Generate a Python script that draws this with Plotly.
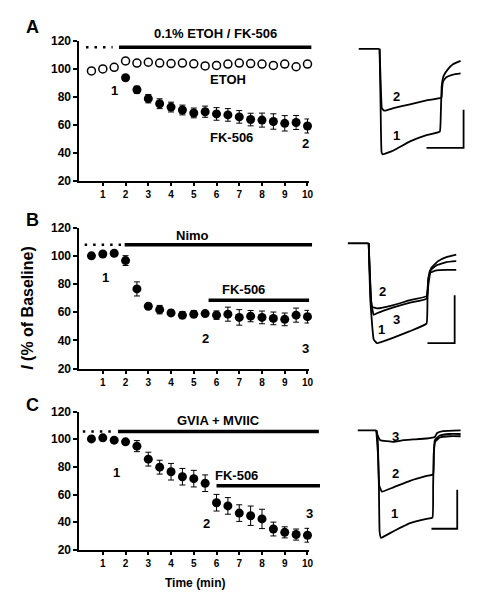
import plotly.graph_objects as go

W, H = 481, 600
FONT = "Liberation Sans, Arial, sans-serif"
PAGE_OFFSET = 8  # the browser's default body margin

# ---------------- data ----------------
time = [0.5, 1.0, 1.5, 2.0, 2.5, 3.0, 3.5, 4.0, 4.5, 5.0,
        5.5, 6.0, 6.5, 7.0, 7.5, 8.0, 8.5, 9.0, 9.5, 10.0]
x_ticks = [1, 2, 3, 4, 5, 6, 7, 8, 9, 10]
y_ticks = [20, 40, 60, 80, 100, 120]

# Panel A
a_etoh = [98.4, 99.8, 101.0, 105.5, 104.0, 104.6, 104.0, 103.7, 104.0, 103.5,
          102.0, 102.3, 103.3, 104.0, 103.7, 103.3, 102.3, 103.3, 101.4, 103.3]
a_etoh_err = [1.5, 1.0, 1.5, 2.0, 1.5, 1.5, 1.5, 2.0, 1.5, 1.5,
              1.5, 1.5, 2.0, 2.0, 2.0, 2.0, 2.0, 2.0, 1.5, 2.0]
a_fk_time = [2.0, 2.5, 3.0, 3.5, 4.0, 4.5, 5.0, 5.5, 6.0, 6.5,
             7.0, 7.5, 8.0, 8.5, 9.0, 9.5, 10.0]
a_fk = [93.5, 85.0, 78.6, 75.0, 72.6, 70.5, 68.4, 69.3, 67.7, 67.0,
        65.6, 63.7, 63.3, 62.3, 61.0, 61.6, 59.1]
a_fk_err = [1.5, 2.5, 3.0, 3.5, 3.5, 3.5, 3.5, 4.0, 4.5, 4.5,
            4.5, 4.5, 5.0, 5.5, 5.5, 5.0, 5.0]

# Panel B
b_mean = [100.0, 101.3, 101.8, 96.6, 76.5, 64.2, 61.8, 59.5, 57.9, 58.6,
          59.0, 57.9, 58.6, 56.3, 57.2, 56.3, 55.6, 54.9, 57.9, 56.8]
b_err = [1.0, 1.0, 1.0, 3.5, 5.0, 2.0, 3.0, 2.0, 2.5, 2.5,
         1.5, 3.0, 5.0, 5.5, 4.0, 4.5, 4.5, 4.5, 5.0, 4.5]

# Panel C
c_mean = [100.2, 101.0, 99.3, 98.1, 95.0, 85.6, 79.8, 76.5, 72.9, 71.5,
          68.2, 54.1, 51.8, 46.6, 44.7, 42.4, 35.1, 32.7, 31.1, 30.6]
c_err = [1.0, 1.0, 1.0, 1.5, 4.0, 5.0, 5.0, 6.0, 6.0, 6.0,
         6.0, 6.0, 6.0, 6.0, 7.0, 7.0, 5.0, 4.0, 4.0, 5.0]

# drug application bars
bar_panel = ["A", "A", "B", "B", "B", "C", "C", "C"]
bar_start = [0.26, 1.71, 0.20, 1.96, 5.65, 0.12, 1.67, 6.00]
bar_end = [1.43, 10.17, 1.80, 10.20, 10.07, 1.52, 10.50, 10.55]
bar_level = [115.3, 115.3, 107.8, 107.8, 68.5, 105.6, 105.6, 66.4]
bar_dotted = [True, False, True, False, False, True, False, False]

# text labels on the time-course plots
lab_panel = ["A", "A", "A", "A", "A", "B", "B", "B", "B", "B",
             "C", "C", "C", "C", "C"]
lab_text = ["0.1% ETOH / FK-506", "ETOH", "1", "FK-506", "2",
            "Nimo", "FK-506", "1", "2", "3",
            "GVIA + MVIIC", "FK-506", "1", "2", "3"]
lab_x = [5.94, 6.52, 1.52, 6.65, 9.93,
         4.93, 7.17, 1.13, 5.50, 9.93,
         6.09, 6.88, 1.60, 5.57, 10.07]
lab_y = [125.3, 92.6, 84.4, 50.7, 46.7,
         114.7, 76.1, 84.7, 41.5, 34.3,
         113.4, 73.9, 76.2, 38.8, 46.4]

# current traces (time, current; arbitrary units)
trA_base_t = [0, 21]
trA_base_i = [0, 0]
trA1_t = [21, 22, 23, 24.3, 35, 51.7, 68.3, 81.7, 82.7, 83.7, 85.7, 90, 95, 102.7]
trA1_i = [0, -57.3, -105.7, -108, -104, -94.7, -88.3, -84.7, -67.3, -37.3, -27.3, -20.7, -15.7, -12.3]
trA2_t = [21, 22.3, 23.3, 25.7, 35, 51.7, 68.3, 83.3, 84, 85, 88.3, 95, 102.7]
trA2_i = [0, -40.7, -60.7, -63.3, -60.7, -56.7, -52.7, -50, -40.7, -33.3, -29, -26.3, -25]

trB_base_t = [0, 21]
trB_base_i = [0, 0]
trB1_t = [21, 22.7, 26, 29.3, 46, 62.7, 79.3, 80.3, 81.3, 84.3, 91, 99.3, 109.3]
trB1_i = [0, -58.3, -98.3, -102.3, -96.7, -90, -82.3, -58.3, -35, -25, -18.3, -14.3, -11.7]
trB2_t = [21, 22.7, 24.3, 29.3, 46, 62.7, 79.3, 81, 82.7, 89.3, 99.3, 109.3]
trB2_i = [0, -41.7, -65, -66.7, -63.3, -58.3, -54.3, -38.3, -28.3, -22.7, -19.3, -18.3]
trB3_t = [21, 23.3, 26, 29.3, 46, 62.7, 79.3, 81.3, 83.3, 89.3, 99.3, 109.3]
trB3_i = [0, -58.3, -73.3, -71.7, -65.7, -60.7, -57, -41.7, -30, -27.7, -27.3, -27.3]

trC_base_t = [0, 18.7]
trC_base_i = [0, 0]
trC1_t = [18.7, 20, 21.3, 22, 23.3, 36, 52.7, 69.3, 75.3, 76, 76.7, 78, 82.7, 92.7, 103.7]
trC1_i = [0, -6.7, -56.7, -103.3, -110, -103.3, -95, -90.7, -89.3, -56.7, -23.3, -11.7, -7.3, -6, -6]
trC2_t = [18.7, 20.3, 21.7, 24.3, 36, 52.7, 69.3, 76, 76.7, 77.7, 82.7, 92.7, 103.7]
trC2_i = [0, -23.3, -56.7, -62.7, -58.3, -51.7, -46.7, -45, -23.3, -10, -5.3, -3.7, -3.7]
trC3_t = [18.7, 20, 22.7, 29.3, 36, 46, 56, 69.3, 77.7, 80, 86, 103.7]
trC3_i = [0, -5, -10, -11, -11.7, -10, -9.3, -8.3, -6.7, -2.7, -0.7, 0]

# scale bars: corner at (x1, y_bottom)
sb_x0 = [68.3, 80.3, 74.3]
sb_x1 = [105.7, 107.7, 100.3]
sb_ybot = [-101.3, -102.3, -100.7]
sb_ytop = [-62.3, -53.3, -60.7]

# trace labels
tl_panel = ["A", "A", "B", "B", "B", "C", "C", "C"]
tl_text = ["2", "1", "2", "3", "1", "3", "2", "1"]
tl_t = [38.3, 38.3, 35.3, 48.7, 34.3, 37.7, 37.7, 37.0]
tl_i = [-49, -89, -49, -78.3, -88.3, -6, -44, -85]

# ---------------- layout helpers ----------------
def px(x):
    return (x - PAGE_OFFSET) / W

def py(y):
    return 1 - (y - PAGE_OFFSET) / H

XR = [-0.03, 10.07]
YR = [20, 120]
main_dom = {"A": (34.3, 177.7), "B": (225.7, 370.0), "C": (414.0, 555.7)}
main_axes = {"A": ("x", "y"), "B": ("x2", "y2"), "C": ("x3", "y3")}

def fx(v):
    return (v - XR[0]) / (XR[1] - XR[0])

def fy(v):
    return (v - YR[0]) / (YR[1] - YR[0])

tr_axes = {"A": ("x4", "y4"), "B": ("x5", "y5"), "C": ("x6", "y6")}
tr_xdom = {"A": (355, 475), "B": (345, 475), "C": (355, 475)}
tr_ydom = {"A": (30, 170), "B": (225, 360), "C": (420, 555)}
tr_origin = {"A": (361.7, 42.7), "B": (350.7, 241.7), "C": (360.7, 433.3)}

fig = go.Figure()

def add_series(ax, x, y, err, filled):
    xa, ya = ax
    fig.add_trace(go.Scatter(
        x=x, y=y, mode="markers", xaxis=xa, yaxis=ya,
        error_y=dict(type="data", array=err, color="black", thickness=1, width=3),
        marker=dict(size=9 if filled else 8, color="black" if filled else "white",
                    symbol="circle",
                    line=dict(color="black", width=0 if filled else 1.5)),
        showlegend=False, cliponaxis=False))

add_series(main_axes["A"], time, a_etoh, a_etoh_err, False)
add_series(main_axes["A"], a_fk_time, a_fk, a_fk_err, True)
add_series(main_axes["B"], time, b_mean, b_err, True)
add_series(main_axes["C"], time, c_mean, c_err, True)

def add_line(ax, t, i, width=1.8):
    xa, ya = ax
    fig.add_trace(go.Scatter(x=t, y=i, mode="lines", xaxis=xa, yaxis=ya,
                             line=dict(color="black", width=width, shape="spline", smoothing=0.3),
                             showlegend=False, hoverinfo="skip"))

add_line(tr_axes["A"], trA_base_t, trA_base_i)
add_line(tr_axes["A"], trA1_t, trA1_i)
add_line(tr_axes["A"], trA2_t, trA2_i)
add_line(tr_axes["B"], trB_base_t, trB_base_i)
add_line(tr_axes["B"], trB1_t, trB1_i)
add_line(tr_axes["B"], trB2_t, trB2_i)
add_line(tr_axes["B"], trB3_t, trB3_i)
add_line(tr_axes["C"], trC_base_t, trC_base_i)
add_line(tr_axes["C"], trC1_t, trC1_i)
add_line(tr_axes["C"], trC2_t, trC2_i)
add_line(tr_axes["C"], trC3_t, trC3_i)

for k, p in enumerate(["A", "B", "C"]):
    xa, ya = tr_axes[p]
    fig.add_trace(go.Scatter(
        x=[sb_x0[k], sb_x1[k], sb_x1[k]], y=[sb_ybot[k], sb_ybot[k], sb_ytop[k]],
        mode="lines", xaxis=xa, yaxis=ya, line=dict(color="black", width=1.8),
        showlegend=False, hoverinfo="skip"))

layout = dict(width=W, height=H, margin=dict(l=0, r=0, t=0, b=0),
              paper_bgcolor="white", plot_bgcolor="white", showlegend=False,
              font=dict(family=FONT, color="black"))

shapes = []
annotations = []

for p, n in zip(["A", "B", "C"], ["", "2", "3"]):
    top, bot = main_dom[p]
    layout["xaxis" + n] = dict(
        domain=[px(80), px(311.6)], range=XR, anchor="y" + n,
        tickvals=x_ticks, ticks="outside", ticklen=3, tickwidth=1.5,
        tickcolor="black", showline=True, linecolor="black", linewidth=2,
        showgrid=False, zeroline=False,
        tickfont=dict(family=FONT, size=10, color="black", weight="bold"))
    layout["yaxis" + n] = dict(
        domain=[py(bot), py(top)], range=YR, anchor="x" + n,
        tickvals=y_ticks, ticks="outside", ticklen=4, tickwidth=1.5,
        tickcolor="black", showline=True, linecolor="black", linewidth=2,
        showgrid=False, zeroline=False,
        tickfont=dict(family=FONT, size=12, color="black", weight="bold"))

for p, n in zip(["A", "B", "C"], ["4", "5", "6"]):
    x0, x1 = tr_xdom[p]
    y0, y1 = tr_ydom[p]
    ox, oy = tr_origin[p]
    layout["xaxis" + n] = dict(domain=[px(x0), px(x1)], range=[x0 - ox, x1 - ox],
                               anchor="y" + n, visible=False)
    layout["yaxis" + n] = dict(domain=[py(y1), py(y0)], range=[oy - y1, oy - y0],
                               anchor="x" + n, visible=False)

# drug bars in axis-domain coordinates (not clipped)
for p, s, e, lv, dot in zip(bar_panel, bar_start, bar_end, bar_level, bar_dotted):
    xa, ya = main_axes[p]
    shapes.append(dict(type="line", xref=xa + " domain", yref=ya + " domain",
                       x0=fx(s), x1=fx(e), y0=fy(lv), y1=fy(lv),
                       line=dict(color="black", width=2.5 if dot else 3.5,
                                 dash="2.5px,6px" if dot else "solid")))

for p, t, x, y in zip(lab_panel, lab_text, lab_x, lab_y):
    xa, ya = main_axes[p]
    annotations.append(dict(text=t, x=fx(x), y=fy(y), xref=xa + " domain", yref=ya + " domain",
                            showarrow=False, xanchor="center", yanchor="middle",
                            font=dict(family=FONT, size=13, color="black", weight="bold")))

for p, t, x, y in zip(tl_panel, tl_text, tl_t, tl_i):
    xa, ya = tr_axes[p]
    annotations.append(dict(text=t, x=x, y=y, xref=xa, yref=ya, showarrow=False,
                            xanchor="center", yanchor="middle",
                            font=dict(family=FONT, size=13, color="black", weight="bold")))

for letter, (lx, ly) in zip(["A", "B", "C"], [(33, 20), (33, 218), (33, 407)]):
    annotations.append(dict(text=letter, x=px(lx), y=py(ly), xref="paper", yref="paper",
                            showarrow=False, xanchor="center", yanchor="middle",
                            font=dict(family=FONT, size=18, color="black", weight="bold")))

annotations.append(dict(text="<i>I</i> (% of Baseline)", x=px(27), y=py(308),
                        xref="paper", yref="paper", showarrow=False, textangle=-90,
                        xanchor="center", yanchor="middle",
                        font=dict(family=FONT, size=16, color="black", weight="bold")))
annotations.append(dict(text="Time (min)", x=px(197), y=py(590),
                        xref="paper", yref="paper", showarrow=False,
                        xanchor="center", yanchor="middle",
                        font=dict(family=FONT, size=12, color="black", weight="bold")))

layout["shapes"] = shapes
layout["annotations"] = annotations
fig.update_layout(**layout)
fig.write_html("out.html")
